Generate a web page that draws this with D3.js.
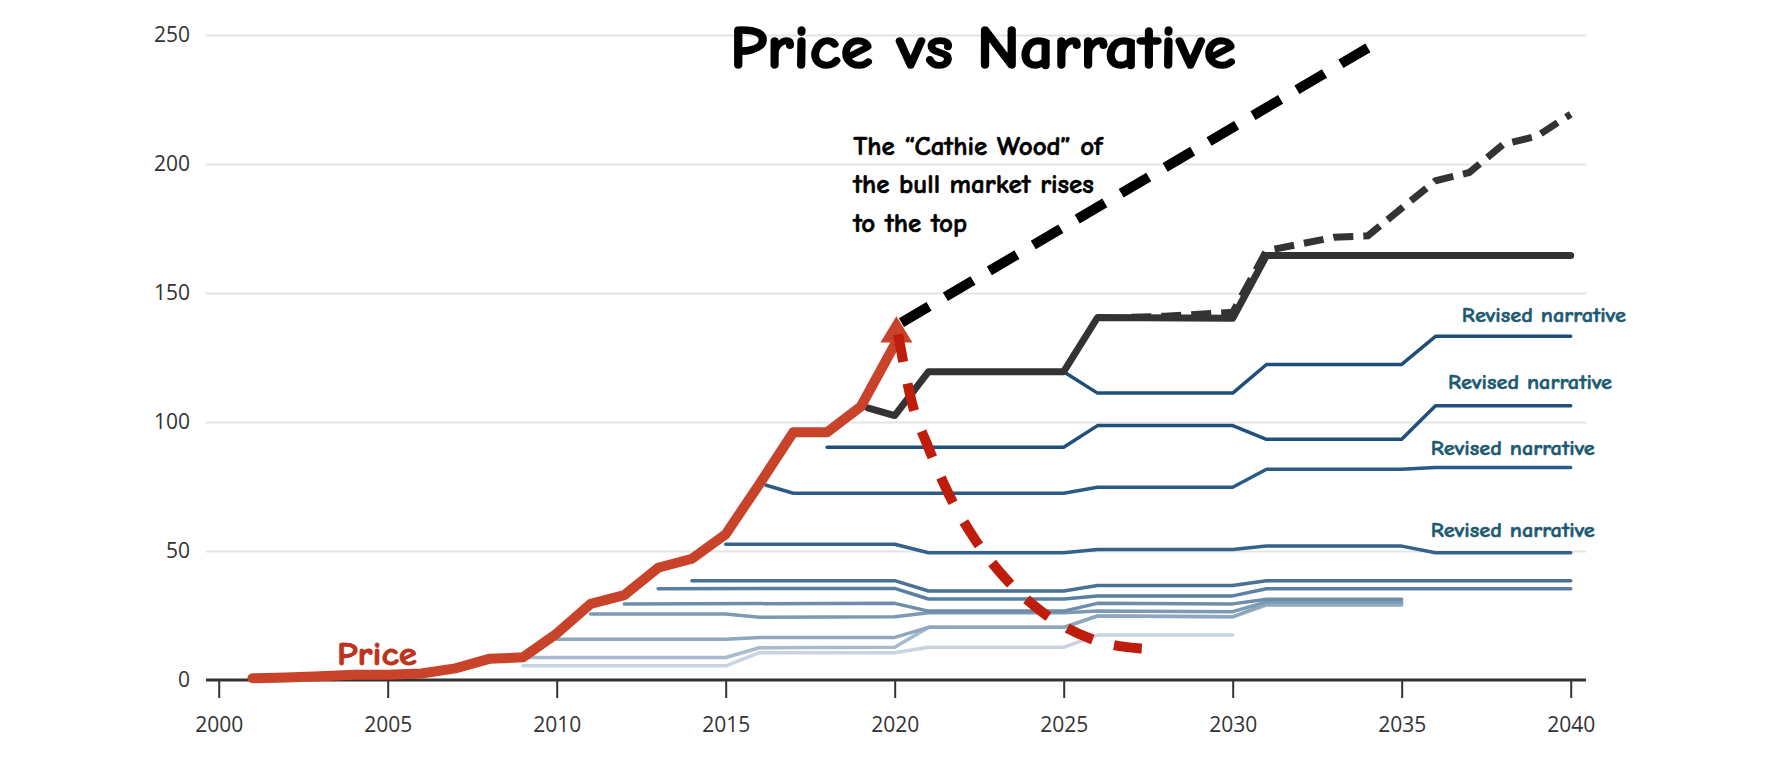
<!DOCTYPE html>
<html lang="en">
<head>
<meta charset="UTF-8">
<title>Price vs Narrative</title>
<script src="https://cdnjs.cloudflare.com/ajax/libs/d3/7.8.5/d3.min.js"></script>
<style>
    body { margin: 0; background: #fff; }
    svg { display: block; }
    .axis text { font-family: "Open Sans", sans-serif; font-size: 21px; fill: #333; }
    .hand { font-family: "Comic Sans MS", "Comic Neue", Lato, sans-serif; font-weight: bold; }
</style>
</head>
<body>
<svg width="1776" height="768"></svg>
<script>
// axis ticks
const xTicks = [2000, 2005, 2010, 2015, 2020, 2025, 2030, 2035, 2040];
const yTicks = [0, 50, 100, 150, 200, 250];

// actual price (red), ends in an arrow
const price = [[2001, 0.7], [2002, 1], [2003, 1.5], [2004, 2], [2005, 2], [2006, 2.5], [2007, 4.5],
    [2008, 8.2], [2009, 8.8], [2010, 18], [2011, 29.5], [2012, 32.9], [2013, 43.5], [2014, 47],
    [2015, 56.5], [2016, 76], [2017, 96], [2018, 96], [2019, 106], [2020, 130]];
const arrowTip = [2020.05, 141];

// price falling back after the peak (dashed red)
const priceDrop = [[2020.1, 134], [2020.5, 108], [2021.0, 90], [2021.6, 72], [2022.4, 54], [2023.3, 39],
    [2024.4, 26], [2025.8, 16], [2027.2, 12.3], [2027.65, 12]];

// the "Cathie Wood" straight line (dashed black)
const cathie = [[2020.2, 138.5], [2034, 245]];

// main narrative (solid dark) and its extrapolation (dashed dark)
const narrative = [[2019.2, 105.5], [2020, 102.5], [2021, 119.5], [2025, 119.5], [2026, 140.5],
    [2030, 140.2], [2031, 164.5], [2040, 164.5]];
const narrativeUp = [[2027, 140.6], [2028, 141], [2029, 141.8], [2030, 142.5], [2031, 166.4],
    [2032, 169], [2033, 171.6], [2034, 172.2], [2036, 193.5], [2037, 196.7], [2038, 207.6],
    [2039, 210.8], [2040, 219.3]];

// revised narratives (blue), by starting year
const rev2025 = [[2025, 119.5], [2026, 111.2], [2030, 111.2], [2031, 122.3], [2035, 122.3], [2036, 133.2], [2040, 133.2]];
const rev2018 = [[2018, 90.2], [2025, 90.2], [2026, 98.6], [2030, 98.6], [2031, 93.3], [2035, 93.3], [2036, 106.3], [2040, 106.3]];
const rev2016 = [[2016.2, 75.5], [2017, 72.4], [2025, 72.4], [2026, 74.7], [2030, 74.7], [2031, 81.7], [2035, 81.7], [2036, 82.4], [2040, 82.4]];
const rev2015 = [[2015, 52.6], [2020, 52.6], [2021, 49.3], [2025, 49.3], [2026, 50.6], [2030, 50.6], [2031, 51.9], [2035, 51.9], [2036, 49.3], [2040, 49.3]];
const rev2014 = [[2014, 38.5], [2020, 38.5], [2021, 34.5], [2025, 34.5], [2026, 36.6], [2030, 36.6], [2031, 38.5], [2040, 38.5]];
const rev2013 = [[2013, 35.4], [2020, 35.5], [2021, 31.4], [2025, 31.4], [2026, 32.6], [2030, 32.6], [2031, 35.4], [2040, 35.4]];
const rev2012 = [[2012, 29.5], [2020, 29.7], [2021, 26.7], [2025, 26.7], [2026, 29.7], [2030, 29.5], [2031, 31.3], [2035, 31.3]];
const rev2011 = [[2011, 25.6], [2015, 25.6], [2016, 24.3], [2020, 24.5], [2021, 26.1], [2025, 26.1], [2026, 26.7], [2030, 26.5], [2031, 30.3], [2035, 30.3]];
const rev2010 = [[2010, 15.8], [2015, 15.8], [2016, 16.5], [2020, 16.5], [2021, 20.4], [2025, 20.4], [2026, 24.8], [2030, 24.5], [2031, 29.5], [2035, 29.5]];
const rev2009a = [[2009, 8.7], [2015, 8.7], [2016, 12.5], [2020, 12.7], [2021, 20.4], [2025, 20.4], [2026, 24.8], [2030, 24.5], [2031, 29], [2035, 29]];
const rev2009b = [[2009, 5.5], [2015, 5.5], [2016, 10.6], [2020, 10.6], [2021, 12.7], [2025, 12.7], [2026, 17.4], [2030, 17.4]];

// drawn lightest first so darker ones sit on top
const revisions = [
    { data: rev2009b, color: "#c8d4e0" },
    { data: rev2009a, color: "#a7bace" },
    { data: rev2010, color: "#8ea7be" },
    { data: rev2011, color: "#7d9ab4" },
    { data: rev2012, color: "#6d8dab" },
    { data: rev2013, color: "#5a7fa1" },
    { data: rev2014, color: "#4a7093" },
    { data: rev2015, color: "#34628c" },
    { data: rev2016, color: "#2a5a86" },
    { data: rev2018, color: "#1f4f7c" },
    { data: rev2025, color: "#1f4e79" }
];

// "Revised narrative" label anchors (year, value of baseline)
const revisedLabels = [[2036.78, 138.8], [2036.37, 112.8], [2035.86, 87.2], [2035.86, 55.4]];

const noteLines = ["The \u201cCathie Wood\u201d of", "the bull market rises", "to the top"];

const svg = d3.select("svg");
const plotL = 206, plotR = 1586;

const x = d3.scaleLinear().domain([2000, 2040]).range([218.7, 1570.7]);
const y = d3.scaleLinear().domain([0, 250]).range([680, 35]);

const line = d3.line().x(d => x(d[0])).y(d => y(d[1]));

// gridlines + y labels
const yAxis = svg.append("g").attr("class", "axis")
    .attr("transform", `translate(${plotL},0)`)
    .call(d3.axisLeft(y).tickValues(yTicks).tickSize(-(plotR - plotL)).tickPadding(16));
yAxis.select(".domain").remove();
yAxis.selectAll(".tick line").attr("stroke", "#e3e3e3").attr("stroke-width", 2)
    .filter(d => d === 0).remove();

// x axis
const xAxis = svg.append("g").attr("class", "axis")
    .attr("transform", `translate(0,${y(0)})`)
    .call(d3.axisBottom(x).tickValues(xTicks).tickFormat(d3.format("d")).tickSize(18).tickPadding(19).tickSizeOuter(0));
xAxis.select(".domain").remove();
xAxis.selectAll(".tick line").attr("stroke", "#333").attr("stroke-width", 2);
xAxis.append("line").attr("x1", plotL).attr("x2", plotR)
    .attr("stroke", "#333").attr("stroke-width", 3);

// revised narratives
svg.append("g").selectAll("path").data(revisions).join("path")
    .attr("d", d => line(d.data))
    .attr("fill", "none")
    .attr("stroke", d => d.color)
    .attr("stroke-width", 3.5)
    .attr("stroke-linecap", "round")
    .attr("stroke-linejoin", "round");

// main narrative
svg.append("path").attr("d", line(narrativeUp))
    .attr("fill", "none").attr("stroke", "#333").attr("stroke-width", 7)
    .attr("stroke-dasharray", "20,10");
svg.append("path").attr("d", line(narrative))
    .attr("fill", "none").attr("stroke", "#333").attr("stroke-width", 7)
    .attr("stroke-linecap", "round").attr("stroke-linejoin", "round");

// price
svg.append("path").attr("d", line(price))
    .attr("fill", "none").attr("stroke", "#c8432a").attr("stroke-width", 10)
    .attr("stroke-linecap", "round").attr("stroke-linejoin", "round");

const last = price[price.length - 1];
const tipX = x(arrowTip[0]), tipY = y(arrowTip[1]), baseY = y(last[1]) - 2;
svg.append("path")
    .attr("d", `M${tipX},${tipY}L${tipX + 16},${baseY}L${tipX - 16},${baseY}Z`)
    .attr("fill", "#c8432a");

// price falling back
svg.append("path").attr("d", d3.line().x(d => x(d[0])).y(d => y(d[1])).curve(d3.curveMonotoneX)(priceDrop))
    .attr("fill", "none").attr("stroke", "#bf1d0b").attr("stroke-width", 10)
    .attr("stroke-dasharray", "28,22");

// cathie wood line
svg.append("path").attr("d", line(cathie))
    .attr("fill", "none").attr("stroke", "#000").attr("stroke-width", 10)
    .attr("stroke-dasharray", "32,19");

// labels (thin stroke to get the heavier look of the original)
svg.selectAll(".rev-label").data(revisedLabels).join("text")
    .attr("class", "hand rev-label")
    .attr("x", d => x(d[0])).attr("y", d => y(d[1]))
    .attr("font-size", 20).attr("fill", "#1d5a72")
    .attr("stroke", "#1d5a72").attr("stroke-width", 0.5)
    .attr("textLength", 164).attr("lengthAdjust", "spacingAndGlyphs")
    .text("Revised narrative");

svg.append("text").attr("class", "hand")
    .attr("x", x(2003.5)).attr("y", y(5.8))
    .attr("font-size", 32).attr("fill", "#bb3420")
    .attr("stroke", "#bb3420").attr("stroke-width", 0.8)
    .attr("textLength", 80).attr("lengthAdjust", "spacingAndGlyphs")
    .text("Price");

svg.append("g").selectAll("text").data(noteLines).join("text")
    .attr("class", "hand")
    .attr("x", x(2018.77))
    .attr("y", (d, i) => y(203.5) + i * 38.5)
    .attr("font-size", 27).attr("fill", "#000")
    .attr("stroke", "#000").attr("stroke-width", 0.6)
    .text(d => d);

svg.append("text").attr("class", "hand")
    .attr("x", 730).attr("y", 68)
    .attr("font-size", 60).attr("fill", "#000")
    .attr("stroke", "#000").attr("stroke-width", 1.6)
    .attr("textLength", 506).attr("lengthAdjust", "spacingAndGlyphs")
    .text("Price vs Narrative");
</script>
</body>
</html>
